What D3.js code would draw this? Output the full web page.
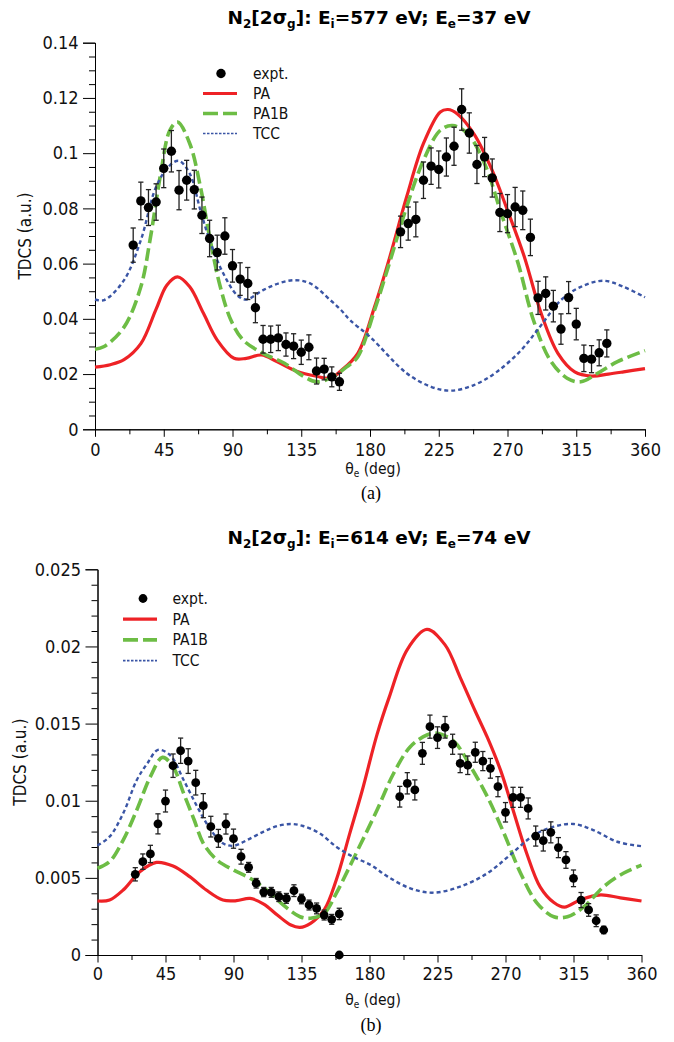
<!DOCTYPE html>
<html>
<head>
<meta charset="utf-8">
<script src="https://cdn.jsdelivr.net/npm/d3@7"></script>
<style>
  body { margin: 0; background: #fff; }
  svg { display: block; }
</style>
</head>
<body>
<svg id="chart" width="674" height="1042"></svg>
<script>
// ---------------- DATA ----------------
const legendLabels = ["expt.", "PA", "PA1B", "TCC"];
const xTickValues = [0, 45, 90, 135, 180, 225, 270, 315, 360];
const xTickLabels = ["0", "45", "90", "135", "180", "225", "270", "315", "360"];
const xMinorTickValues = [22.5, 67.5, 112.5, 157.5, 202.5, 247.5, 292.5, 337.5];

const aYTickValues = [0, 0.02, 0.04, 0.06, 0.08, 0.1, 0.12, 0.14];
const aYTickLabels = ["0", "0.02", "0.04", "0.06", "0.08", "0.1", "0.12", "0.14"];
const bYTickValues = [0, 0.005, 0.01, 0.015, 0.02, 0.025];
const bYTickLabels = ["0", "0.005", "0.01", "0.015", "0.02", "0.025"];

// Panel (a): Ei=577 eV, Ee=37 eV
const aExptAngles = [25,30,35,40,45,50,55,60,65,70,75,80,85,90,95,100,105,110,115,120,125,130,135,140,145,150,155,160,
                     200,205,210,215,220,225,230,235,240,245,250,255,260,265,270,275,280,285,290,295,300,305,310,315,320,325,330,335];
const aExptValues = [0.0667,0.0827,0.0803,0.0823,0.0945,0.1007,0.0866,0.0902,0.0868,0.0775,0.0691,0.0640,0.0700,0.0592,0.0544,0.0528,0.0440,0.0326,0.0326,0.0331,0.0307,0.0301,0.0279,0.0297,0.0211,0.0218,0.0190,0.0172,
                     0.0715,0.0745,0.0760,0.0902,0.0953,0.0941,0.0986,0.1025,0.1158,0.1073,0.0959,0.0986,0.0910,0.0785,0.0781,0.0805,0.0793,0.0695,0.0476,0.0492,0.0446,0.0363,0.0477,0.0381,0.0257,0.0254,0.0277,0.0311];
const aExptErrors = [0.0062,0.0068,0.0065,0.0066,0.0070,0.0075,0.0071,0.0072,0.0070,0.0066,0.0066,0.0063,0.0066,0.0059,0.0059,0.0058,0.0054,0.0050,0.0048,0.0046,0.0042,0.0045,0.0044,0.0045,0.0047,0.0039,0.0036,0.0031,
                     0.0057,0.0060,0.0063,0.0066,0.0066,0.0067,0.0069,0.0069,0.0075,0.0073,0.0069,0.0071,0.0069,0.0069,0.0069,0.0071,0.0070,0.0066,0.0060,0.0060,0.0057,0.0055,0.0058,0.0057,0.0048,0.0049,0.0047,0.0049];

const aPAAngles = [0,10,19,30,40,47,54,62,71,80,91,99,109,119,132,145,154,161,172,183,193,204,215,226,231,237,248,259,270,281,292,303,314,325,336,346,360];
const aPAValues = [0.0225,0.0234,0.0252,0.0310,0.0435,0.0522,0.0552,0.0516,0.042,0.0323,0.0257,0.0257,0.0269,0.0245,0.021,0.0192,0.0185,0.0212,0.0275,0.0444,0.0625,0.0842,0.1035,0.1149,0.1158,0.1143,0.107,0.095,0.0793,0.0625,0.042,0.0275,0.0208,0.0193,0.020,0.0208,0.022];

const aPA1BAngles = [0,6,19,30,36,43,49,54,62,69,75,82,89,97,110,124,137,145,154,165,172,183,193,204,215,226,234,244,255,266,277,287,298,309,318,329,342,360];
const aPA1BValues = [0.029,0.030,0.037,0.0516,0.0685,0.0926,0.1083,0.1113,0.1035,0.0878,0.0697,0.0516,0.0395,0.0323,0.0275,0.0239,0.019,0.0172,0.0185,0.0227,0.0263,0.0432,0.0607,0.0806,0.0974,0.1083,0.110,0.107,0.0962,0.078,0.060,0.0395,0.025,0.0185,0.0172,0.0203,0.0245,0.0285];

const aTCCAngles = [0,6,19,30,40,49,55,62,69,75,84,93,99,110,121,131,141,154,161,167,180,204,220,233,248,263,279,292,305,318,333,346,360];
const aTCCValues = [0.047,0.0468,0.054,0.0685,0.0878,0.0956,0.0972,0.0926,0.0793,0.0685,0.0564,0.0486,0.047,0.0504,0.053,0.054,0.0528,0.0468,0.0432,0.0395,0.0335,0.0203,0.0154,0.014,0.016,0.0208,0.0287,0.0377,0.0468,0.0516,0.0538,0.0516,0.0478];

// Panel (b): Ei=614 eV, Ee=74 eV
const bExptAngles = [25,30,35,40,45,50,55,60,65,70,75,80,85,90,95,100,105,110,115,120,125,130,135,140,145,150,155,160,
                     160,
                     200,205,210,215,220,225,230,235,240,245,250,255,260,265,270,275,280,285,290,295,300,305,310,315,320,325,330,335];
const bExptValues = [0.00523,0.00605,0.00655,0.0085,0.00998,0.01227,0.01324,0.01257,0.01117,0.00968,0.00832,0.00756,0.00849,0.00754,0.00637,0.00568,0.00465,0.00408,0.00406,0.00378,0.00367,0.00417,0.00363,0.00324,0.00302,0.00259,0.00231,0.00266,
                     0,
                     0.01026,0.01113,0.0107,0.01307,0.0148,0.01409,0.01476,0.01366,0.01242,0.0123,0.01314,0.01257,0.0121,0.01091,0.00925,0.01022,0.01022,0.0095,0.00771,0.00741,0.00795,0.00696,0.00616,0.00497,0.00356,0.00292,0.00222,0.00162];
const bExptErrors = [0.00043,0.0005,0.00056,0.00065,0.00071,0.00076,0.00082,0.0008,0.0008,0.00078,0.00067,0.00058,0.00065,0.00062,0.00048,0.00032,0.00031,0.0003,0.00032,0.00031,0.00032,0.00038,0.00031,0.00032,0.00035,0.00032,0.00032,0.00037,
                     0,
                     0.00067,0.00069,0.00065,0.00071,0.00075,0.0007,0.0007,0.00065,0.0006,0.0006,0.00065,0.00062,0.00064,0.00065,0.00063,0.00065,0.00065,0.00068,0.00065,0.00067,0.00068,0.00065,0.00054,0.00054,0.00049,0.00041,0.00038,0.00024];

const bPAAngles = [0,8,17,28,39,50,61,72,83,92,101,110,119,128,134,141,150,158,167,175,185,193,205,218,230,240,250,258,267,275,284,293,302,309,320,333,346,360];
const bPAValues = [0.0035,0.00356,0.00421,0.0054,0.006,0.00577,0.00508,0.00421,0.00356,0.00352,0.00367,0.0033,0.00259,0.00194,0.00179,0.00205,0.00292,0.00486,0.0079,0.0106,0.0143,0.0167,0.0198,0.0211,0.0201,0.0180,0.0158,0.0141,0.0119,0.0094,0.0066,0.0044,0.0034,0.0031,0.0036,0.0039,0.0037,0.0035];

const bPA1BAngles = [0,8,17,26,35,43,50,57,64,70,79,90,101,112,123,134,141,150,158,169,185,196,207,218,225,236,247,258,269,280,291,302,311,322,335,348,360];
const bPA1BValues = [0.00562,0.00605,0.00745,0.0094,0.01156,0.01281,0.0122,0.01048,0.00875,0.00724,0.00616,0.00551,0.00497,0.00421,0.00324,0.00248,0.00238,0.0027,0.004,0.00616,0.0094,0.01178,0.0135,0.01426,0.01437,0.01383,0.0122,0.01026,0.00789,0.0053,0.00335,0.00248,0.00248,0.00313,0.00443,0.0053,0.00583];

const bTCCAngles = [0,8,17,26,33,40,48,57,66,75,83,90,99,110,119,128,136,147,158,169,181,192,207,222,240,258,273,289,302,315,328,344,360];
const bTCCValues = [0.0071,0.00767,0.00918,0.01134,0.01242,0.01329,0.01296,0.01134,0.00961,0.0081,0.00724,0.00708,0.00745,0.008,0.00836,0.00849,0.00836,0.00789,0.00702,0.00637,0.00583,0.00508,0.00432,0.00404,0.00443,0.0053,0.00648,0.00778,0.00832,0.00849,0.0081,0.00734,0.00705];

// ---------------- DRAWING ----------------
const svg = d3.select("#chart");
const TICK_FONT = "'DejaVu Sans Condensed', 'DejaVu Sans', sans-serif";
const styles = {
  PA:   { stroke: "#ee2226", width: 3.2, dash: null },
  PA1B: { stroke: "#6dbd45", width: 3.6, dash: "13,5" },
  TCC:  { stroke: "#3a55a5", width: 2.4, dash: "4,3" }
};

function addSubText(sel, parts, subSize, shift) {
  let shifted = false;
  parts.forEach(p => {
    const ts = sel.append("tspan").text(p.t);
    if (p.sub) {
      ts.attr("font-size", subSize);
      if (!shifted) ts.attr("dy", shift);
      shifted = true;
    } else if (shifted) {
      ts.attr("dy", -shift);
      shifted = false;
    }
  });
}

function drawPanel(p) {
  const x = d3.scaleLinear().domain([0, 360]).range([p.left, p.right]);
  const y = d3.scaleLinear().domain([0, p.yMax]).range([p.bottom, p.top]);
  const g = svg.append("g");

  g.append("g").attr("transform", `translate(0,${p.bottom})`)
    .call(d3.axisBottom(x).tickValues(xMinorTickValues).tickSize(5).tickSizeOuter(0).tickFormat(""));
  const xa = g.append("g").attr("transform", `translate(0,${p.bottom})`)
    .call(d3.axisBottom(x).tickValues(xTickValues).tickSize(7.5).tickSizeOuter(0).tickFormat((d, i) => xTickLabels[i]));
  xa.attr("font-family", TICK_FONT).attr("font-size", 18);
  xa.selectAll("text").attr("y", p.xTickY).attr("dy", 0).attr("fill", "#111");

  g.append("g").attr("transform", `translate(${p.left},0)`)
    .call(d3.axisLeft(y).tickValues(p.yMinor).tickSize(6).tickSizeOuter(0).tickFormat(""));
  const ya = g.append("g").attr("transform", `translate(${p.left},0)`)
    .call(d3.axisLeft(y).tickValues(p.yTicks).tickSize(12).tickPadding(4.5).tickFormat((d, i) => p.yLabels[i]));
  ya.attr("font-family", TICK_FONT).attr("font-size", 18);
  ya.selectAll("text").attr("fill", "#111");
  g.selectAll(".domain, .tick line").attr("stroke", "#000").attr("stroke-width", 1);

  const line = d3.line().x(d => x(d[0])).y(d => y(d[1])).curve(d3.curveCatmullRom.alpha(0.5));
  p.curves.forEach(c => {
    const s = styles[c.name];
    g.append("path").datum(d3.zip(c.angles, c.values))
      .attr("d", line).attr("fill", "none")
      .attr("stroke", s.stroke).attr("stroke-width", s.width)
      .attr("stroke-dasharray", s.dash);
  });

  const ex = d3.zip(p.exAngles, p.exValues, p.exErrors);
  const eb = g.append("g").attr("stroke", "#222").attr("stroke-width", 1.3);
  ex.filter(d => d[2] > 0).forEach(d => {
    const cx = x(d[0]);
    eb.append("line").attr("x1", cx).attr("x2", cx).attr("y1", y(d[1] - d[2])).attr("y2", y(d[1] + d[2]));
    eb.append("line").attr("x1", cx - 2.6).attr("x2", cx + 2.6).attr("y1", y(d[1] - d[2])).attr("y2", y(d[1] - d[2]));
    eb.append("line").attr("x1", cx - 2.6).attr("x2", cx + 2.6).attr("y1", y(d[1] + d[2])).attr("y2", y(d[1] + d[2]));
  });
  g.append("g").selectAll("circle").data(ex).join("circle")
    .attr("cx", d => x(d[0])).attr("cy", d => y(d[1])).attr("r", p.r).attr("fill", "#000");

  const L = p.legend;
  const lg = g.append("g");
  legendLabels.forEach((lab, i) => {
    const ly = L.y0 + i * L.dy;
    if (i === 0) {
      lg.append("circle").attr("cx", L.dotX).attr("cy", ly).attr("r", p.r).attr("fill", "#000");
    } else {
      const s = styles[lab];
      lg.append("line").attr("x1", L.x0).attr("x2", L.x1).attr("y1", ly).attr("y2", ly)
        .attr("stroke", s.stroke).attr("stroke-width", lab === "TCC" ? 1.6 : s.width)
        .attr("stroke-dasharray", lab === "TCC" ? "2.5,1.5" : (s.dash ? "15,5" : null));
    }
    lg.append("text").attr("x", L.tx).attr("y", ly).attr("dy", "0.36em")
      .attr("font-family", TICK_FONT).attr("font-size", 15.5).attr("fill", "#111").text(lab);
  });

  const t = g.append("text").attr("x", p.titleX).attr("y", p.titleY).attr("text-anchor", "middle")
    .attr("font-family", "'DejaVu Sans', sans-serif").attr("font-weight", "bold").attr("font-size", 18.5).attr("fill", "#000");
  addSubText(t, p.title, 12, 4);

  g.append("text").attr("transform", `translate(${p.yLabX},${(p.top + p.bottom) / 2}) rotate(-90)`)
    .attr("text-anchor", "middle").attr("dy", "0.35em")
    .attr("font-family", TICK_FONT).attr("font-size", 17).attr("fill", "#111").text("TDCS (a.u.)");

  const xl = g.append("text").attr("x", 373).attr("y", p.bottom + p.xLabelDy).attr("text-anchor", "middle")
    .attr("font-family", TICK_FONT).attr("font-size", 15.5).attr("fill", "#111");
  addSubText(xl, [{t: "θ"}, {t: "e", sub: true}, {t: " (deg)"}], 10, 3);

  g.append("text").attr("x", 371).attr("y", p.bottom + p.captionDy).attr("text-anchor", "middle")
    .attr("font-family", "'Liberation Serif', 'Times New Roman', serif").attr("font-size", 18).attr("fill", "#000")
    .text(p.caption);
}

const aMinor = d3.range(0, 0.14001, 0.005).filter(v => Math.abs(v / 0.02 - Math.round(v / 0.02)) > 1e-6);
const bMinor = d3.range(0, 0.02501, 0.001).filter(v => Math.abs(v / 0.005 - Math.round(v / 0.005)) > 1e-6);

drawPanel({
  left: 95, right: 645, top: 42.7, bottom: 429.3, yMax: 0.14,
  yTicks: aYTickValues, yLabels: aYTickLabels, yMinor: aMinor,
  exAngles: aExptAngles, exValues: aExptValues, exErrors: aExptErrors, r: 4.7,
  curves: [
    { name: "PA", angles: aPAAngles, values: aPAValues },
    { name: "PA1B", angles: aPA1BAngles, values: aPA1BValues },
    { name: "TCC", angles: aTCCAngles, values: aTCCValues }
  ],
  legend: { x0: 203, x1: 237, dotX: 221, tx: 253, y0: 73.5, dy: 20 },
  title: [{t: "N"}, {t: "2", sub: true}, {t: "[2σ"}, {t: "g", sub: true}, {t: "]: E"}, {t: "i", sub: true},
          {t: "=577 eV; E"}, {t: "e", sub: true}, {t: "=37 eV"}],
  titleX: 379, titleY: 24, yLabX: 25.5, caption: "(a)",
  xTickY: 26.5, xLabelDy: 45, captionDy: 70
});

drawPanel({
  left: 97.5, right: 641.5, top: 569.3, bottom: 955, yMax: 0.025,
  yTicks: bYTickValues, yLabels: bYTickLabels, yMinor: bMinor,
  exAngles: bExptAngles, exValues: bExptValues, exErrors: bExptErrors, r: 4.4,
  curves: [
    { name: "PA", angles: bPAAngles, values: bPAValues },
    { name: "PA1B", angles: bPA1BAngles, values: bPA1BValues },
    { name: "TCC", angles: bTCCAngles, values: bTCCValues }
  ],
  legend: { x0: 123, x1: 157, dotX: 143, tx: 172.5, y0: 598.5, dy: 20.7 },
  title: [{t: "N"}, {t: "2", sub: true}, {t: "[2σ"}, {t: "g", sub: true}, {t: "]: E"}, {t: "i", sub: true},
          {t: "=614 eV; E"}, {t: "e", sub: true}, {t: "=74 eV"}],
  titleX: 379, titleY: 544, yLabX: 20, caption: "(b)",
  xTickY: 25, xLabelDy: 50, captionDy: 76
});
</script>
</body>
</html>
